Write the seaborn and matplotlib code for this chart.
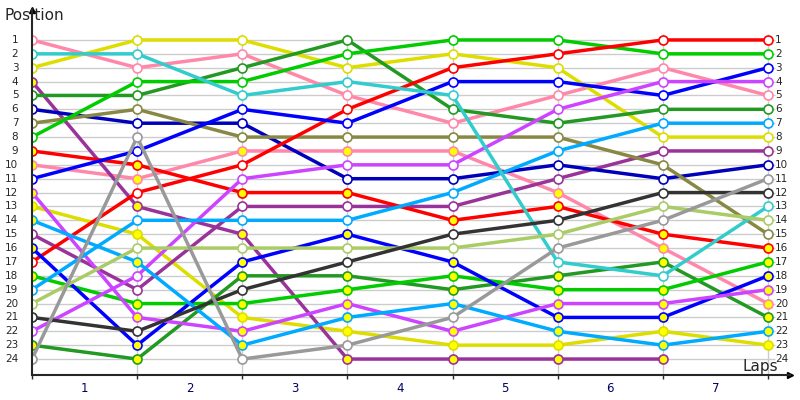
import pandas as pd
import matplotlib
matplotlib.use("Agg")
import matplotlib.pyplot as plt
import seaborn as sns

laps = [0, 1, 2, 3, 4, 5, 6, 7]
lap_labels = ["1", "2", "3", "4", "5", "6", "7"]
positions = list(range(1, 25))

# positions per lap (lap 0 = start), None = retired
pink_a = [1, 3, 2, 5, 7, 5, 3, 5]
pink_b = [10, 11, 9, 9, 9, 12, 16, 20]
yellow_a = [3, 1, 1, 3, 2, 3, 8, 8]
yellow_b = [13, 15, 21, 22, 23, 23, 22, 23]
purple_a = [4, 13, 15, 24, 24, 24, 24, None]
purple_b = [15, 19, 13, 13, 13, 11, 9, 9]
dkgreen_a = [5, 5, 3, 1, 6, 7, 6, 6]
dkgreen_b = [23, 24, 18, 18, 19, 18, 17, 21]
navy = [6, 7, 7, 11, 11, 10, 11, 10]
olive = [7, 6, 8, 8, 8, 8, 10, 15]
lime_a = [8, 4, 4, 2, 1, 1, 2, 2]
lime_b = [18, 20, 20, 19, 18, 19, 19, 17]
red_a = [9, 10, 12, 12, 14, 13, 15, 16]
red_b = [17, 12, 10, 6, 3, 2, 1, 1]
blue_a = [11, 9, 6, 7, 4, 4, 5, 3]
blue_b = [16, 23, 17, 15, 17, 21, 21, 18]
violet_a = [12, 21, 22, 20, 22, 20, 20, 19]
violet_b = [22, 18, 11, 10, 10, 6, 4, 4]
ltblue_a = [14, 17, 23, 21, 20, 22, 23, 22]
ltblue_b = [19, 14, 14, 14, 12, 9, 7, 7]
cyan = [2, 2, 5, 4, 5, 17, 18, 13]
ltgreen = [20, 16, 16, 16, 16, 15, 13, 14]
black = [21, 22, 19, 17, 15, 14, 12, 12]
grey = [24, 8, 24, 23, 21, 16, 14, 11]

drivers = [
    (pink_a, "#ff88aa", False), (pink_b, "#ff88aa", True),
    (yellow_a, "#dddd00", False), (yellow_b, "#dddd00", True),
    (purple_a, "#993399", True), (purple_b, "#993399", False),
    (dkgreen_a, "#229922", False), (dkgreen_b, "#229922", True),
    (navy, "#0000bb", False), (olive, "#888844", False),
    (lime_a, "#00cc00", False), (lime_b, "#00cc00", True),
    (red_a, "#ff0000", True), (red_b, "#ff0000", False),
    (blue_a, "#0000ff", False), (blue_b, "#0000ff", True),
    (violet_a, "#cc44ff", True), (violet_b, "#cc44ff", False),
    (ltblue_a, "#00aaff", True), (ltblue_b, "#00aaff", False),
    (cyan, "#33cccc", False), (ltgreen, "#aacc66", False),
    (black, "#333333", False), (grey, "#999999", False),
]

sns.set_style("white")
fig = plt.figure(figsize=(8, 4), dpi=100)
ax = fig.add_axes([32 / 800, 25 / 400, 758 / 800, 365 / 400])
ax.set_xlim(0, 7.21)
ax.set_ylim(25.15, -1.16)

ax.hlines(positions, 0, 7.07, color="#cccccc", lw=1, zorder=0)
ax.vlines(laps[1:], 0.6, 25.15, color="#cccccc", lw=1, zorder=0)

for pos_list, col, pit in drivers:
    df = pd.DataFrame({"lap": laps, "pos": pos_list}).dropna()
    sns.lineplot(data=df, x="lap", y="pos", ax=ax, color=col, lw=2.5,
                 marker="o", markersize=6.5, markeredgewidth=1.2,
                 markeredgecolor=col,
                 markerfacecolor="#ffff00" if pit else "white")

for s in ["top", "right"]:
    ax.spines[s].set_visible(False)
ax.spines["left"].set_linewidth(1.5)
ax.spines["bottom"].set_linewidth(1.5)
ax.plot(0, 1, "^k", ms=4, transform=ax.transAxes, clip_on=False)
ax.plot(1, 0, ">k", ms=4, transform=ax.transAxes, clip_on=False)

ax.set_xticks(laps)
ax.set_xticklabels([])
ax.tick_params(axis="x", length=3, width=1, direction="out", bottom=True)
ax.set_yticks([])
ax.set_xlabel("")
ax.set_ylabel("")

for p in positions:
    ax.text(-0.13, p, str(p), ha="right", va="center", fontsize=7.5)
    ax.text(7.07, p, str(p), ha="left", va="center", fontsize=7.5)
for i, lab in enumerate(lap_labels):
    ax.text(i + 0.5, 25.65, lab, ha="center", va="top", fontsize=8.5, color="#000066")

fig.text(4 / 800, 1 - 16 / 400, "Position", fontsize=11, va="center")
fig.text(742 / 800, 1 - 367 / 400, "Laps", fontsize=11, va="center")

fig.savefig("out.png", dpi=100)
